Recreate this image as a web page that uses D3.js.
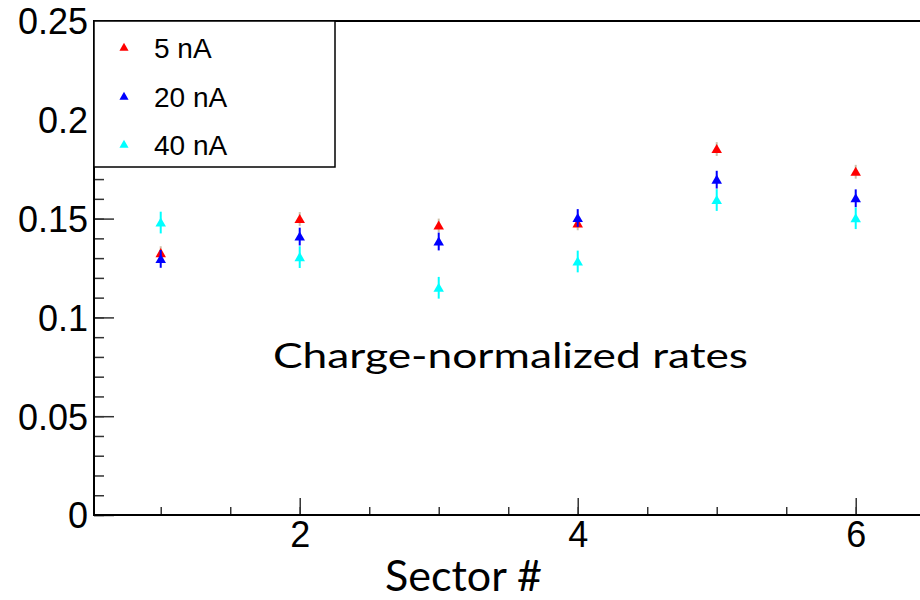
<!DOCTYPE html>
<html>
<head>
<meta charset="utf-8">
<script src="https://cdn.jsdelivr.net/npm/d3@7"></script>
<style>
  html, body { margin: 0; padding: 0; background: #fff; }
  svg { display: block; }
</style>
</head>
<body>
<svg id="chart" width="920" height="600"></svg>
<script>
// ---- data ----
const sectors = [1, 2, 3, 4, 5, 6];
const series = ["5 nA", "20 nA", "40 nA"];
const values5 = [0.1325, 0.1498, 0.1465, 0.1476, 0.1852, 0.1737];
const values20 = [0.1296, 0.1409, 0.1384, 0.1503, 0.1697, 0.1603];
const values40 = [0.1480, 0.1305, 0.1150, 0.1283, 0.1594, 0.1502];
const errors5 = [0.0035, 0.0035, 0.0035, 0.0035, 0.0035, 0.0035];
const errors20 = [0.0045, 0.0045, 0.0045, 0.0045, 0.0045, 0.0045];
const errors40 = [0.0055, 0.0055, 0.0055, 0.0055, 0.0055, 0.0055];
const colors = ["#ff0000", "#0000ff", "#00ffff"];
const errColors = ["#cdbfa8", "#0000ff", "#00ffff"];
const yTickValues = [0, 0.05, 0.1, 0.15, 0.2, 0.25];
const yTickLabels = ["0", "0.05", "0.1", "0.15", "0.2", "0.25"];
const xTickValues = [2, 4, 6];
const xTickLabels = ["2", "4", "6"];
const xLabel = "Sector #";
const annotation = "Charge-normalized rates";

// ---- layout ----
const svg = d3.select("#chart");
const pL = 94, pR = 928, pT = 21, pB = 515;
const x = d3.scaleLinear().domain([0.52, 6.52]).range([pL, pR]);
const y = d3.scaleLinear().domain([0, 0.25]).range([pB, pT]);

// frame
svg.append("rect").attr("x", pL).attr("y", pT)
  .attr("width", pR - pL).attr("height", pB - pT)
  .attr("fill", "none").attr("stroke", "#000").attr("stroke-width", 2);

// y minor ticks
const yMinor = d3.range(0, 0.2501, 0.01);
svg.append("g").attr("transform", `translate(${pL},0)`)
  .call(d3.axisLeft(y).tickValues(yMinor).tickSize(-10).tickFormat(""))
  .call(g => g.select(".domain").remove())
  .call(g => g.selectAll("line").attr("stroke", "#333").attr("stroke-width", 1.5));
// y major ticks
svg.append("g").attr("transform", `translate(${pL},0)`)
  .call(d3.axisLeft(y).tickValues(yTickValues).tickSize(-20).tickPadding(6)
    .tickFormat((d, i) => yTickLabels[i]))
  .call(g => g.select(".domain").remove())
  .call(g => g.selectAll("line").attr("stroke", "#333").attr("stroke-width", 1.5))
  .call(g => g.selectAll("text").attr("font-family", "Liberation Sans, Arial, sans-serif")
    .attr("font-size", 36).attr("fill", "#000").attr("dy", "0.36em"));

// x minor ticks
const xMinor = d3.range(1, 6.51, 0.5);
svg.append("g").attr("transform", `translate(0,${pB})`)
  .call(d3.axisBottom(x).tickValues(xMinor).tickSize(-8).tickFormat(""))
  .call(g => g.select(".domain").remove())
  .call(g => g.selectAll("line").attr("stroke", "#333").attr("stroke-width", 1.5));
// x major ticks
svg.append("g").attr("transform", `translate(0,${pB})`)
  .call(d3.axisBottom(x).tickValues(xTickValues).tickSize(-17).tickPadding(10)
    .tickFormat((d, i) => xTickLabels[i]))
  .call(g => g.select(".domain").remove())
  .call(g => g.selectAll("line").attr("stroke", "#333").attr("stroke-width", 1.5))
  .call(g => g.selectAll("text").attr("font-family", "Liberation Sans, Arial, sans-serif")
    .attr("font-size", 36).attr("fill", "#000").attr("dy", "0.9em").attr("y", 0));

// axis lines on top
svg.append("line").attr("x1", pL).attr("x2", pL).attr("y1", pT).attr("y2", pB)
  .attr("stroke", "#000").attr("stroke-width", 2);
svg.append("line").attr("x1", pL).attr("x2", pR).attr("y1", pB).attr("y2", pB)
  .attr("stroke", "#000").attr("stroke-width", 2);

// data
const allVals = [values5, values20, values40];
const allErrs = [errors5, errors20, errors40];
const tri = d3.symbol().type(d3.symbolTriangle).size(48);

allVals.forEach((vals, s) => {
  const g = svg.append("g");
  const pts = sectors.map((sec, i) => ({ sec, v: vals[i], e: allErrs[s][i] }));
  g.selectAll("line.err").data(pts).enter().append("line")
    .attr("x1", d => x(d.sec)).attr("x2", d => x(d.sec))
    .attr("y1", d => y(d.v - d.e)).attr("y2", d => y(d.v + d.e))
    .attr("stroke", errColors[s]).attr("stroke-width", 2);
  g.selectAll("path.pt").data(pts).enter().append("path")
    .attr("d", tri)
    .attr("transform", d => `translate(${x(d.sec)},${y(d.v) + 1})`)
    .attr("fill", colors[s]);
});

// legend
const lg = svg.append("g");
lg.append("rect").attr("x", pL).attr("y", pT).attr("width", 335 - pL).attr("height", 167 - pT)
  .attr("fill", "#fff").attr("stroke", "#000").attr("stroke-width", 1.5);
const legRows = [48, 97, 145];
series.forEach((name, i) => {
  lg.append("path").attr("d", d3.symbol().type(d3.symbolTriangle).size(36))
    .attr("transform", `translate(124,${legRows[i]})`).attr("fill", colors[i]);
  lg.append("text").attr("x", 154).attr("y", legRows[i]).attr("dy", "0.36em")
    .attr("font-family", "Liberation Sans, Arial, sans-serif").attr("font-size", 28)
    .attr("fill", "#000").text(name);
});

// annotation
svg.append("text").attr("x", 273).attr("y", 368)
  .attr("font-family", "Lato, sans-serif").attr("font-size", 34)
  .attr("textLength", 475).attr("lengthAdjust", "spacingAndGlyphs")
  .attr("fill", "#000").text(annotation);

// x label
svg.append("text").attr("x", 385).attr("y", 591)
  .attr("font-family", "Lato, sans-serif").attr("font-size", 42)
  .attr("textLength", 157).attr("lengthAdjust", "spacingAndGlyphs")
  .attr("fill", "#000").text(xLabel);
</script>
</body>
</html>
